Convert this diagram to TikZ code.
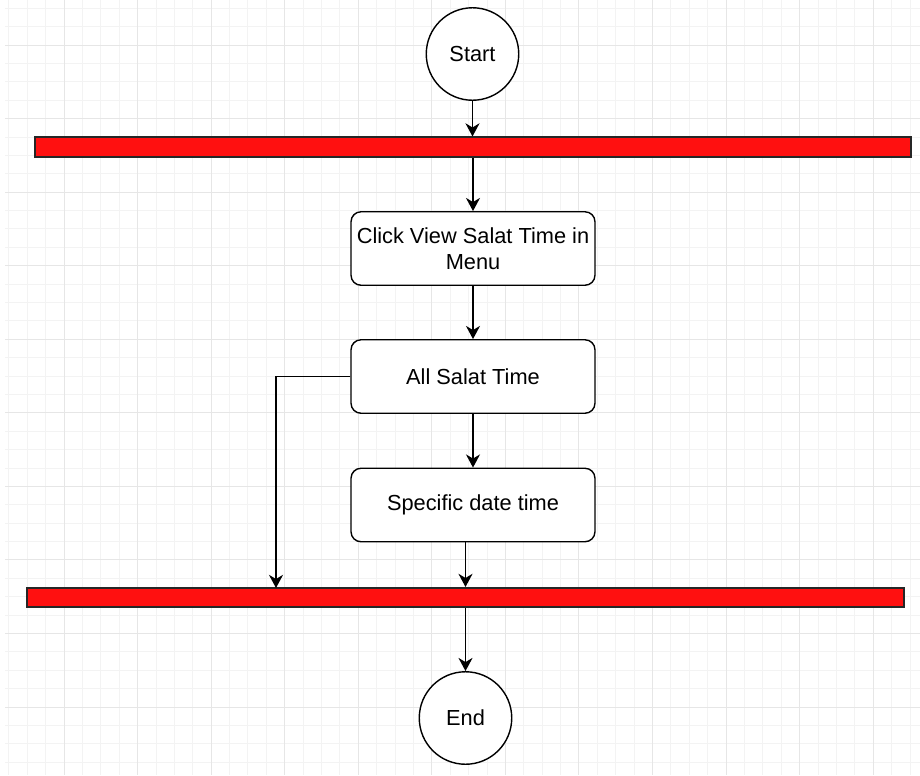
\documentclass[tikz,border=0pt]{standalone}
\usepackage{fontspec}
\setmainfont{Liberation Sans}
\usetikzlibrary{arrows.meta}

\definecolor{barred}{HTML}{FF1010}
\definecolor{gridminor}{HTML}{F3F3F3}
\definecolor{gridmajor}{HTML}{E6E6E6}

\begin{document}
\begin{tikzpicture}[x=0.02cm, y=-0.02cm,
        font = \fontsize{12.4}{14.7}\selectfont,
        startend/.style = {circle, draw, line width=0.8pt, fill=white, minimum size=1.85cm, inner sep=0pt},
        bar/.style = {rectangle, draw=black!85, line width=0.9pt, fill=barred, minimum height=0.39cm, inner sep=0pt},
        activity/.style = {rectangle, rounded corners=0.2cm, draw, line width=0.8pt, fill=white,
                           minimum width=4.88cm, minimum height=1.47cm, align=center, inner sep=2pt},
        flow/.style = {line width=0.9pt, -{Stealth[length=7.5pt, width=8pt, inset=2.4pt]}}]
        \useasboundingbox (0,0) rectangle (920,775);

        % background grid
        \begin{scope}
        \clip (5,0) rectangle (920,775);
        \foreach \i in {-4,...,46}
                \draw[gridminor, line width=0.5pt] ({64+\i*18.39},0) -- ({64+\i*18.39},775);
        \foreach \i in {-3,...,40}
                \draw[gridminor, line width=0.5pt] (5,{45+\i*18.39}) -- (920,{45+\i*18.39});
        \foreach \i in {-1,...,11}
                \draw[gridmajor, line width=0.5pt] ({64+\i*73.55},0) -- ({64+\i*73.55},775);
        \foreach \i in {-1,...,10}
                \draw[gridmajor, line width=0.5pt] (5,{45+\i*73.55}) -- (920,{45+\i*73.55});
        \end{scope}

        % nodes
        \node[startend] (start) at (472.5,54) {Start};
        \node[bar, minimum width=17.52cm] (barTop) at (473,147) {};
        \node[activity] (click) at (473,248.5) {Click View Salat Time in\\Menu};
        \node[activity] (allTime) at (473,376.5) {All Salat Time};
        \node[activity] (specific) at (473,505) {Specific date time};
        \node[bar, minimum width=17.54cm] (barBottom) at (465.5,597.5) {};
        \node[startend] (finish) at (465.5,718) {End};
        \coordinate (loopIn) at (276,588);

        % connectors
        \draw[flow] (start) -- (start |- barTop.north);
        \draw[flow] (click |- barTop.south) -- (click);
        \draw[flow] (click) -- (allTime);
        \draw[flow] (allTime) -- (specific);
        \draw[flow] (allTime.west) -| (loopIn);
        \draw[flow] (barBottom.north |- specific.south) -- (barBottom.north);
        \draw[flow] (barBottom.south) -- (finish);
\end{tikzpicture}
\end{document}
